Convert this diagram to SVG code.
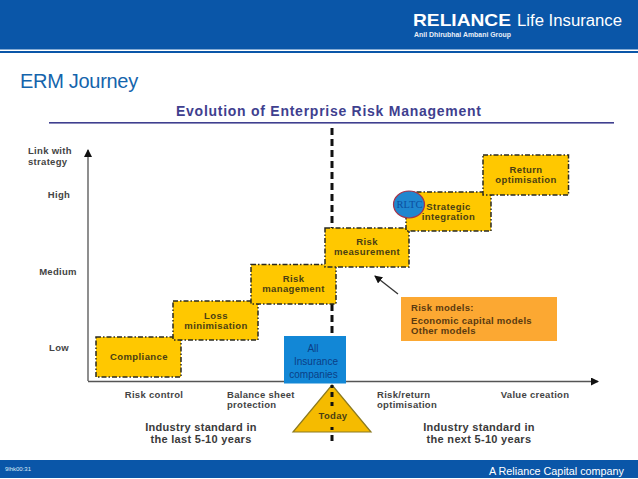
<svg xmlns="http://www.w3.org/2000/svg" width="638" height="479" viewBox="0 0 638 479">
<defs>
<style>
text{font-family:"Liberation Sans",Arial,sans-serif}
.b{fill:#ffc800;stroke:#2a2a20;stroke-width:1.5;stroke-dasharray:5 2 1.5 2}
.t{font-size:9.5px;font-weight:bold;fill:#4a3f14;text-anchor:middle;letter-spacing:.4px}
.a{font-size:9.5px;font-weight:bold;fill:#444;text-anchor:middle;letter-spacing:.3px}
.s{text-anchor:start}
.m{font-size:9.5px;font-weight:bold;fill:#5a3a10;letter-spacing:.3px}
.i{font-size:11px;font-weight:bold;fill:#3a3a3a;text-anchor:middle;letter-spacing:.3px}
.c{font-size:10px;fill:#0b3f86;text-anchor:middle}
</style>
<marker id="ah" markerWidth="9" markerHeight="9" refX="7" refY="4" orient="auto" markerUnits="userSpaceOnUse"><path d="M0 0L8 4L0 8Z" fill="#111"/></marker>
</defs>
<rect width="638" height="479" fill="#fff"/>
<g id="header">
<rect width="638" height="49.500" fill="#0a56a8"/>
<rect y="51" width="638" height="2" fill="#0a56a8"/>
<text x="413" y="26" font-size="17" font-weight="bold" fill="#fff" textLength="98" lengthAdjust="spacingAndGlyphs">RELIANCE</text>
<text x="517" y="26" font-size="16" fill="#fff" textLength="105" lengthAdjust="spacingAndGlyphs">Life Insurance</text>
<text x="414" y="37" font-size="7" font-weight="bold" fill="#e8eff8" textLength="97" lengthAdjust="spacingAndGlyphs">Anil Dhirubhai Ambani Group</text>
</g>
<text id="title" x="20" y="88" font-size="20" fill="#1464ac" letter-spacing="-.3">ERM Journey</text>
<g id="heading">
<text x="176" y="116" font-size="14" font-weight="bold" fill="#3f3f8f" textLength="305">Evolution of Enterprise Risk Management</text>
<rect x="49" y="122" width="565" height="1.600" fill="#3f3f8f"/>
</g>
<g id="connectors" fill="none">
<path d="M88 381V150" stroke="#444" stroke-width="1.200" marker-end="url(#ah)"/>
<path d="M88 381.500H598" stroke="#555" stroke-width="1.300" marker-end="url(#ah)"/>
<path d="M332 128V336" stroke="#111" stroke-width="3" stroke-dasharray="7 4"/>
<path d="M398 294L375 276" stroke="#333" stroke-width="1.300" marker-end="url(#ah)"/>
</g>
<g id="axis-labels">
<text class="a s" x="28" y="154">Link with</text>
<text class="a s" x="28" y="164.500">strategy</text>
<text class="a" x="59" y="198">High</text>
<text class="a" x="58" y="275">Medium</text>
<text class="a" x="59" y="351">Low</text>
<text class="a" x="154" y="398">Risk control</text>
<text class="a s" x="227" y="397.500">Balance sheet</text>
<text class="a s" x="227" y="407.500">protection</text>
<text class="a s" x="377" y="397.500">Risk/return</text>
<text class="a s" x="377" y="407.500">optimisation</text>
<text class="a" x="535" y="398">Value creation</text>
<text class="i" x="201" y="431">Industry standard in</text>
<text class="i" x="201" y="443">the last 5-10 years</text>
<text class="i" x="479" y="431">Industry standard in</text>
<text class="i" x="479" y="443">the next 5-10 years</text>
</g>
<g id="compliance"><rect class="b" x="96" y="337" width="85" height="40"/><text class="t" x="139" y="359.500">Compliance</text></g>
<g id="loss"><rect class="b" x="173" y="301" width="85" height="39"/><text class="t" x="216" y="318.500">Loss</text><text class="t" x="216" y="328.500">minimisation</text></g>
<g id="risk-management"><rect class="b" x="251" y="264.500" width="85" height="39.500"/><text class="t" x="293.500" y="281.500">Risk</text><text class="t" x="293.500" y="291.500">management</text></g>
<g id="risk-measurement"><rect class="b" x="325" y="228" width="84" height="39"/><text class="t" x="367" y="245">Risk</text><text class="t" x="367" y="255">measurement</text></g>
<g id="strategic"><rect class="b" x="406" y="192" width="85" height="39"/><text class="t" x="448.500" y="209.500">Strategic</text><text class="t" x="448.500" y="219.500">integration</text></g>
<g id="return"><rect class="b" x="483" y="155" width="85.500" height="40"/><text class="t" x="526" y="173">Return</text><text class="t" x="526" y="183">optimisation</text></g>
<g id="rltc"><ellipse cx="409" cy="204.500" rx="15.500" ry="13.500" fill="#1f87cf" stroke="#a8344a" stroke-width="1.200"/><text x="409.500" y="208" font-size="10.500" fill="#0d4fa0" text-anchor="middle" style="font-family:'Liberation Serif',serif">RLTC</text></g>
<g id="risk-models"><rect x="401" y="297" width="156" height="44" fill="#fca832"/><text class="m" x="411" y="310.500">Risk models:</text><text class="m" x="411" y="324">Economic capital models</text><text class="m" x="411" y="333.500">Other models</text></g>
<g id="today"><path d="M332 385L371 432H293Z" fill="#f5bb00" stroke="#8c7a20" stroke-width="1.200"/><path d="M332 385V388M332 392V397M332 402V406M332 427V430M332 435V441" stroke="#111" stroke-width="3"/><text class="a" x="333" y="419" style="fill:#4a3f14">Today</text></g>
<g id="all-companies"><rect x="284" y="336" width="62" height="47.500" fill="#1287d6"/><text class="c" x="313" y="352">All</text><text class="c" x="316" y="365">Insurance</text><text class="c" x="313.500" y="378">companies</text></g>
<g id="footer">
<rect y="460" width="638" height="18" fill="#0a56a8"/>
<text x="5" y="471" font-size="6" fill="#dfeaf6">9lhk00:31</text>
<text x="624" y="474.500" font-size="10.800" fill="#fff" text-anchor="end">A Reliance Capital company</text>
</g>
</svg>
